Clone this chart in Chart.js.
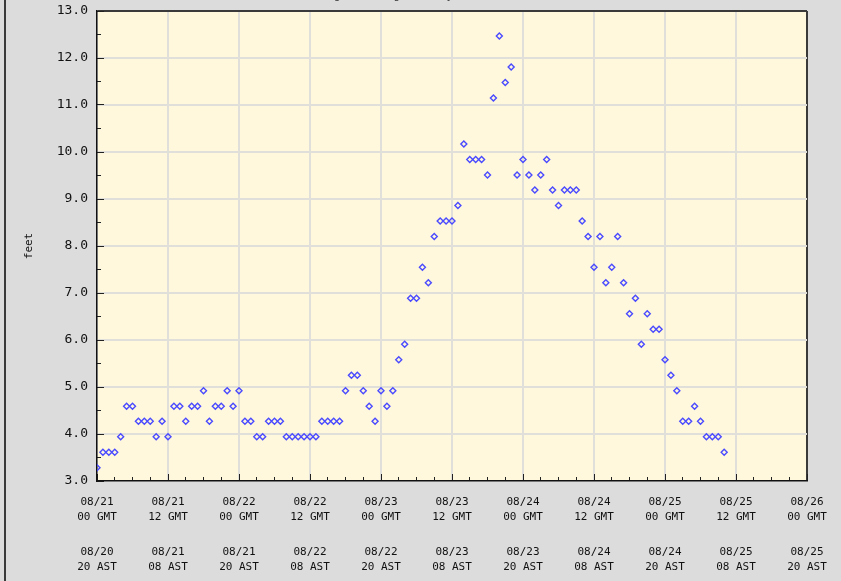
<!DOCTYPE html>
<html>
<head>
<meta charset="utf-8">
<title>Stage hydrograph</title>
<script src="https://cdn.jsdelivr.net/npm/chart.js@4.4.0/dist/chart.umd.min.js"></script>
<style>
  html, body { margin: 0; padding: 0; background: #dcdcdc; }
  #frame { position: relative; width: 841px; height: 581px; overflow: hidden; background: #dcdcdc; }
  #chartBox { position: absolute; left: 0; top: -12px; width: 841px; height: 593px; }
  #edge { position: absolute; left: 4px; top: 0; width: 2px; height: 581px; background: #3a3a3a; }
</style>
</head>
<body>
<div id="frame">
  <div id="chartBox"><canvas id="stageChart"></canvas></div>
  <div id="edge"></div>
</div>
<script>
// hourly stage readings (feet), first one at 08/21 00 GMT
const firstHour = 0;
const stageFeet = [
  3.28, 3.61, 3.61, 3.61, 3.94, 4.59, 4.59, 4.27, 4.27, 4.27, 3.94, 4.27,
  3.94, 4.59, 4.59, 4.27, 4.59, 4.59, 4.92, 4.27, 4.59, 4.59, 4.92, 4.59,
  4.92, 4.27, 4.27, 3.94, 3.94, 4.27, 4.27, 4.27, 3.94, 3.94, 3.94, 3.94,
  3.94, 3.94, 4.27, 4.27, 4.27, 4.27, 4.92, 5.25, 5.25, 4.92, 4.59, 4.27,
  4.92, 4.59, 4.92, 5.58, 5.91, 6.89, 6.89, 7.55, 7.22, 8.20, 8.53, 8.53,
  8.53, 8.86, 10.17, 9.84, 9.84, 9.84, 9.51, 11.15, 12.47, 11.48, 11.81, 9.51,
  9.84, 9.51, 9.19, 9.51, 9.84, 9.19, 8.86, 9.19, 9.19, 9.19, 8.53, 8.20,
  7.55, 8.20, 7.22, 7.55, 8.20, 7.22, 6.56, 6.89, 5.91, 6.56, 6.23, 6.23,
  5.58, 5.25, 4.92, 4.27, 4.27, 4.59, 4.27, 3.94, 3.94, 3.94, 3.61
];

const gmtTickLabels = [
  ['08/21', '00 GMT'], ['08/21', '12 GMT'], ['08/22', '00 GMT'], ['08/22', '12 GMT'],
  ['08/23', '00 GMT'], ['08/23', '12 GMT'], ['08/24', '00 GMT'], ['08/24', '12 GMT'],
  ['08/25', '00 GMT'], ['08/25', '12 GMT'], ['08/26', '00 GMT']
];
const astTickLabels = [
  ['08/20', '20 AST'], ['08/21', '08 AST'], ['08/21', '20 AST'], ['08/22', '08 AST'],
  ['08/22', '20 AST'], ['08/23', '08 AST'], ['08/23', '20 AST'], ['08/24', '08 AST'],
  ['08/24', '20 AST'], ['08/25', '08 AST'], ['08/25', '20 AST']
];

const hourMin = 0, hourMax = 120;
const feetMin = 3, feetMax = 13;

const monoFont = 'DejaVu Sans Mono';
const gridGray = '#e0dfda';
const frameDark = '#3a3a3a';

// fill the plot area with the cream colour
const plotBackground = {
  id: 'plotBackground',
  beforeDraw(chart) {
    const { ctx, chartArea: { left, top, width, height } } = chart;
    ctx.save();
    ctx.fillStyle = '#fff8dc';
    ctx.fillRect(left, top, width, height);
    ctx.restore();
  }
};

// inward tick marks drawn by axes pinned to the plot edges
function edgeTicks(axisPos, lo, hi, step, len) {
  return {
    type: 'linear',
    position: axisPos,
    min: lo,
    max: hi,
    ticks: { display: false, stepSize: step, autoSkip: false },
    grid: { drawOnChartArea: false, drawTicks: true, tickLength: len, tickColor: '#222', tickWidth: 1 },
    border: { display: false }
  };
}

new Chart(document.getElementById('stageChart'), {
  type: 'scatter',
  data: {
    datasets: [{
      label: 'Observed',
      data: stageFeet.map((ft, i) => ({ x: firstHour + i, y: ft })),
      xAxisID: 'x',
      yAxisID: 'y',
      pointStyle: 'rectRot',
      pointRadius: 3,
      pointBorderWidth: 1.4,
      borderColor: '#4a4aff',
      backgroundColor: 'rgba(255,255,255,0)',
      showLine: false
    }]
  },
  options: {
    responsive: true,
    maintainAspectRatio: false,
    animation: false,
    events: [],
    layout: { padding: { left: 0, right: 34, top: 0, bottom: 0 } },
    plugins: {
      legend: { display: false },
      tooltip: { enabled: false },
      title: {
        display: true,
        text: 'Range of Stage Hourly, 2011',
        color: '#333',
        font: { family: monoFont, size: 11, weight: 'normal' },
        padding: { top: 2, bottom: 7.8 }
      }
    },
    scales: {
      x: {
        type: 'linear',
        position: 'bottom',
        min: hourMin,
        max: hourMax,
        afterFit: s => { s.height = 40; },
        ticks: {
          stepSize: 12,
          maxRotation: 0,
          autoSkip: false,
          padding: 0,
          color: '#111',
          font: { family: monoFont, size: 11, lineHeight: '15px' },
          callback: v => gmtTickLabels[v / 12]
        },
        grid: {
          color: c => (c.tick && c.tick.value === hourMax) ? frameDark : gridGray,
          lineWidth: 2,
          tickLength: 13.5,
          tickColor: 'rgba(0,0,0,0)'
        },
        border: { display: true, color: '#111', width: 1.5 }
      },
      xAst: {
        type: 'linear',
        position: 'bottom',
        min: hourMin,
        max: hourMax,
        afterFit: s => { s.height = 60; },
        ticks: {
          stepSize: 12,
          maxRotation: 0,
          autoSkip: false,
          padding: 0,
          color: '#111',
          font: { family: monoFont, size: 11, lineHeight: '15px' },
          callback: v => astTickLabels[v / 12]
        },
        grid: { display: false, drawTicks: true, tickLength: 24 },
        border: { display: false }
      },
      xMajor: edgeTicks({ y: feetMin }, hourMin, hourMax, 12, -7),
      xMinor: edgeTicks({ y: feetMin }, hourMin, hourMax, 3, -4),
      y: {
        type: 'linear',
        position: 'left',
        min: feetMin,
        max: feetMax,
        afterFit: s => { s.width = 97; },
        title: {
          display: true,
          text: 'feet',
          color: '#111',
          font: { family: monoFont, size: 11 },
          padding: { top: 23, bottom: 0 }
        },
        ticks: {
          stepSize: 1,
          padding: 0,
          color: '#111',
          font: { family: monoFont, size: 13 },
          callback: v => v.toFixed(1)
        },
        grid: {
          color: c => (c.tick && c.tick.value === feetMax) ? frameDark : gridGray,
          lineWidth: 2,
          tickLength: 9,
          tickColor: 'rgba(0,0,0,0)'
        },
        border: { display: true, color: '#111', width: 1.5 }
      },
      yMajor: edgeTicks({ x: hourMin }, feetMin, feetMax, 1, -7),
      yMinor: edgeTicks({ x: hourMin }, feetMin, feetMax, 0.5, -4)
    }
  },
  plugins: [plotBackground]
});
</script>
</body>
</html>
